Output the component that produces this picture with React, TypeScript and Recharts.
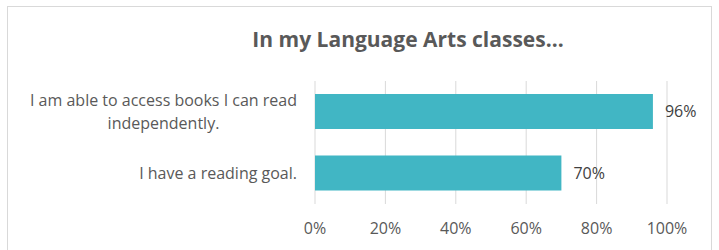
import React, { useLayoutEffect, useRef } from 'react';
import { BarChart, Bar, XAxis, YAxis, CartesianGrid, LabelList } from 'recharts';

const statements = [
  'I am able to access books I can read|independently.',
  'I have a reading goal.'
];
const percents = [96, 70];
const xTicks = [0, 20, 40, 60, 80, 100];
const chartTitle = 'In my Language Arts classes...';

const FONT = '"Open Sans", Lato, sans-serif';
const TEXT = '#595959';

const data = statements.map((s, i) => ({ name: s, value: percents[i] }));

// category labels: block right-aligned to the axis, lines centred inside it (like Excel)
function CategoryTick(props: any) {
  const { x, y, payload } = props;
  const ref = useRef<SVGGElement>(null);
  const lines: string[] = String(payload.value).split('|');
  const size = 16;
  const lh = 23;
  const startY = y - ((lines.length - 1) * lh) / 2;

  useLayoutEffect(() => {
    const g = ref.current;
    if (!g) return;
    const texts = Array.from(g.querySelectorAll('text')) as SVGTextElement[];
    const widths = texts.map((t) => t.getComputedTextLength());
    const max = Math.max(...widths);
    texts.forEach((t, i) => t.setAttribute('transform', `translate(${-(max - widths[i]) / 2},0)`));
  });

  return (
    <g ref={ref}>
      {lines.map((l, i) => (
        <text
          key={i}
          x={x}
          y={startY + i * lh}
          dy="0.35em"
          textAnchor="end"
          fontSize={size}
          fontFamily={FONT}
          fill={TEXT}
        >
          {l}
        </text>
      ))}
    </g>
  );
}

export default function App() {
  return (
    <div style={{ position: 'absolute', left: 0, top: 0, width: 719, height: 250, overflow: 'hidden', background: '#fff' }}>
      {/* chart frame, bottom edge is cut off in the original */}
      <div
        style={{
          position: 'absolute',
          left: 7,
          top: 6,
          width: 705,
          height: 270,
          border: '1.5px solid #d9d9d9',
          boxSizing: 'border-box'
        }}
      />
      <div
        style={{
          position: 'absolute',
          left: 408,
          top: 25,
          transform: 'translateX(-50%)',
          whiteSpace: 'nowrap',
          fontFamily: FONT,
          fontWeight: 700,
          fontSize: 21,
          lineHeight: '28px',
          color: TEXT
        }}
      >
        {chartTitle}
      </div>
      <div style={{ position: 'absolute', left: 0, top: 0 }}>
        <BarChart
          width={719}
          height={250}
          data={data}
          layout="vertical"
          margin={{ top: 81, right: 52, bottom: 16, left: 0 }}
        >
          <CartesianGrid horizontal={false} stroke="#d9d9d9" strokeWidth={1} />
          <XAxis
            type="number"
            domain={[0, 100]}
            ticks={xTicks}
            tickFormatter={(v: number) => `${v}%`}
            axisLine={false}
            tickLine={false}
            tickMargin={13}
            height={30}
            interval={0}
            tick={{ fontSize: 16, fontFamily: FONT, fill: TEXT }}
          />
          <YAxis
            type="category"
            dataKey="name"
            width={315}
            axisLine={false}
            tickLine={false}
            tickMargin={12}
            tick={<CategoryTick />}
          />
          <Bar dataKey="value" fill="#41b6c4" barSize={35} isAnimationActive={false}>
            <LabelList
              dataKey="value"
              position="right"
              offset={12}
              formatter={(v: any) => `${v}%`}
              style={{ fontSize: 16, fontFamily: FONT, fill: '#404040' }}
            />
          </Bar>
        </BarChart>
      </div>
    </div>
  );
}
